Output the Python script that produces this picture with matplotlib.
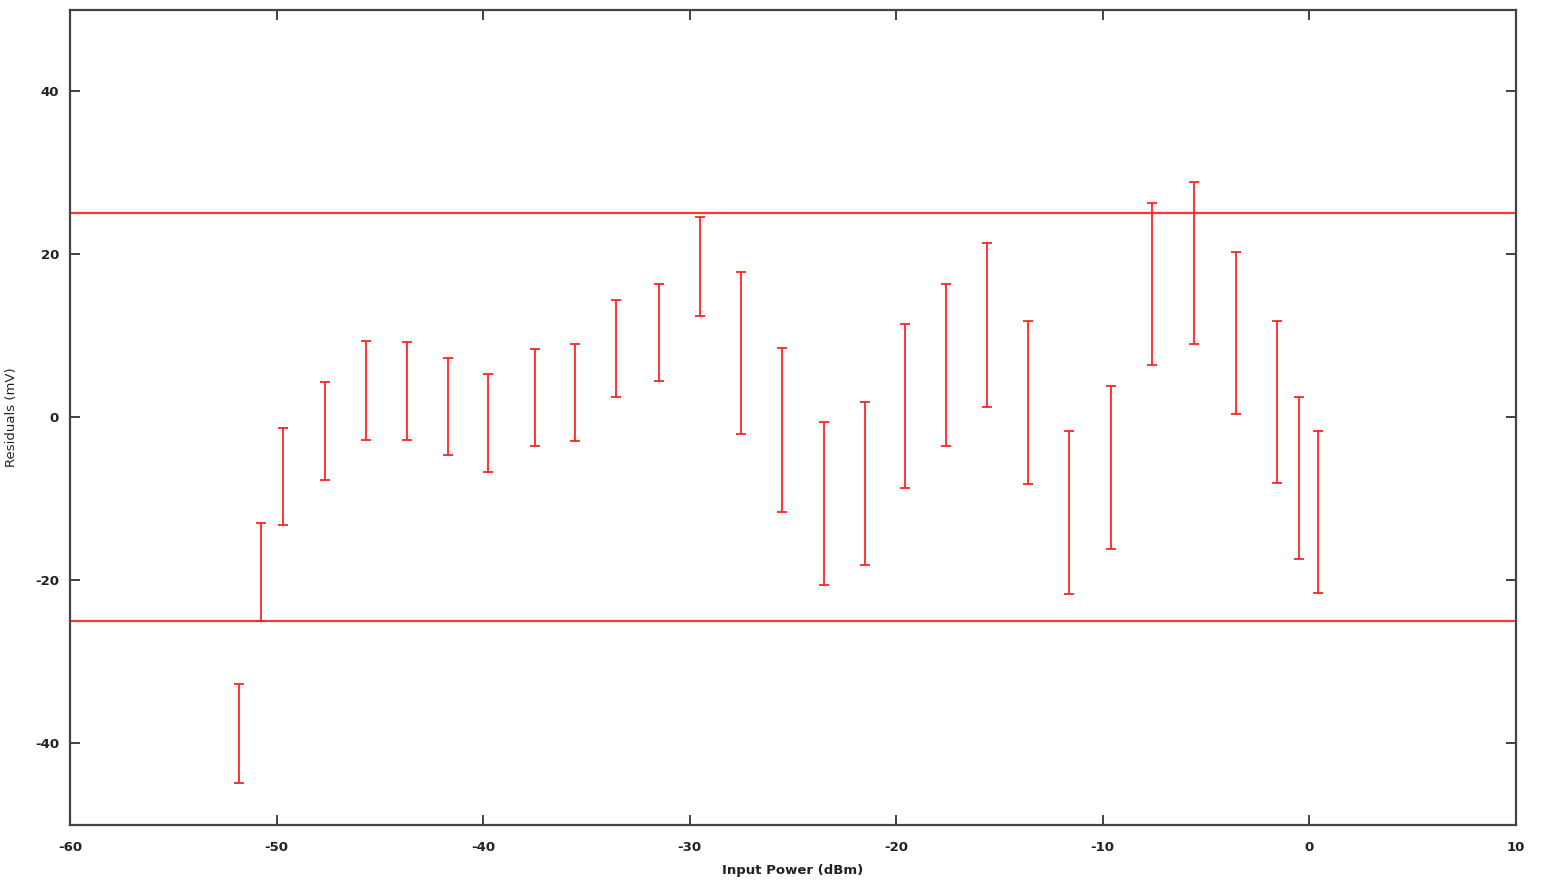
import matplotlib
matplotlib.use('Agg')
import matplotlib.pyplot as plt
import numpy as np

plt.rcParams['axes.unicode_minus'] = False

# input power of each measurement point (dBm)
input_power = [-51.8, -50.75, -49.7, -47.65, -45.65, -43.7, -41.7, -39.75,
               -37.5, -35.55, -33.55, -31.5, -29.5, -27.5, -25.5, -23.5,
               -21.5, -19.55, -17.6, -15.6, -13.6, -11.6, -9.6, -7.6,
               -5.55, -3.55, -1.55, -0.5, 0.45]
# upper and lower ends of each residual error bar (mV)
res_high = [-32.8, -13.0, -1.3, 4.25, 9.3, 9.15, 7.2, 5.3,
            8.3, 8.9, 14.3, 16.3, 24.5, 17.8, 8.45, -0.65,
            1.85, 11.4, 16.3, 21.4, 11.8, -1.7, 3.8, 26.3,
            28.8, 20.2, 11.8, 2.5, -1.7]
res_low = [-44.85, -25.0, -13.3, -7.7, -2.8, -2.8, -4.65, -6.7,
           -3.6, -3.0, 2.4, 4.4, 12.4, -2.1, -11.6, -20.6,
           -18.1, -8.7, -3.6, 1.25, -8.2, -21.7, -16.2, 6.4,
           8.9, 0.35, -8.1, -17.4, -21.6]
limits = [25, -25]

x_ticks = [-60, -50, -40, -30, -20, -10, 0, 10]
y_ticks = [-40, -20, 0, 20, 40]

fig = plt.figure(figsize=(15.43, 8.85), dpi=100)
ax = fig.add_axes([70 / 1543, 1 - 824.5 / 885, 1445.5 / 1543, 815 / 885])

hi = np.array(res_high)
lo = np.array(res_low)
mid = (hi + lo) / 2
half = (hi - lo) / 2
ax.errorbar(input_power, mid, yerr=half, fmt='none', ecolor='#ff2020',
            elinewidth=1.4, capsize=3.6, capthick=1.4, alpha=0.9)

for lim in limits:
    ax.axhline(lim, color='#ff2020', lw=1.6, alpha=0.9)

ax.set_xlim(-60, 10)
ax.set_ylim(-50, 50)
ax.set_xticks(x_ticks)
ax.set_yticks(y_ticks)
ax.tick_params(direction='in', length=7, width=1.3, color='#333333',
               top=True, right=True, labelsize=9.5, labelcolor='#222222')
ax.tick_params(axis='x', pad=12)
ax.tick_params(axis='y', pad=8)
for lbl in ax.get_xticklabels() + ax.get_yticklabels():
    lbl.set_fontweight('bold')
for sp in ax.spines.values():
    sp.set_color('#444444')
    sp.set_linewidth(1.6)

ax.set_xlabel('Input Power (dBm)', fontsize=9.5, fontweight='bold',
              color='#222222', labelpad=7)
ax.set_ylabel('Residuals (mV)', fontsize=9.5, color='#222222')
ax.yaxis.set_label_coords(-0.036, 0.5)

fig.savefig('out.png', dpi=100, facecolor='white')
